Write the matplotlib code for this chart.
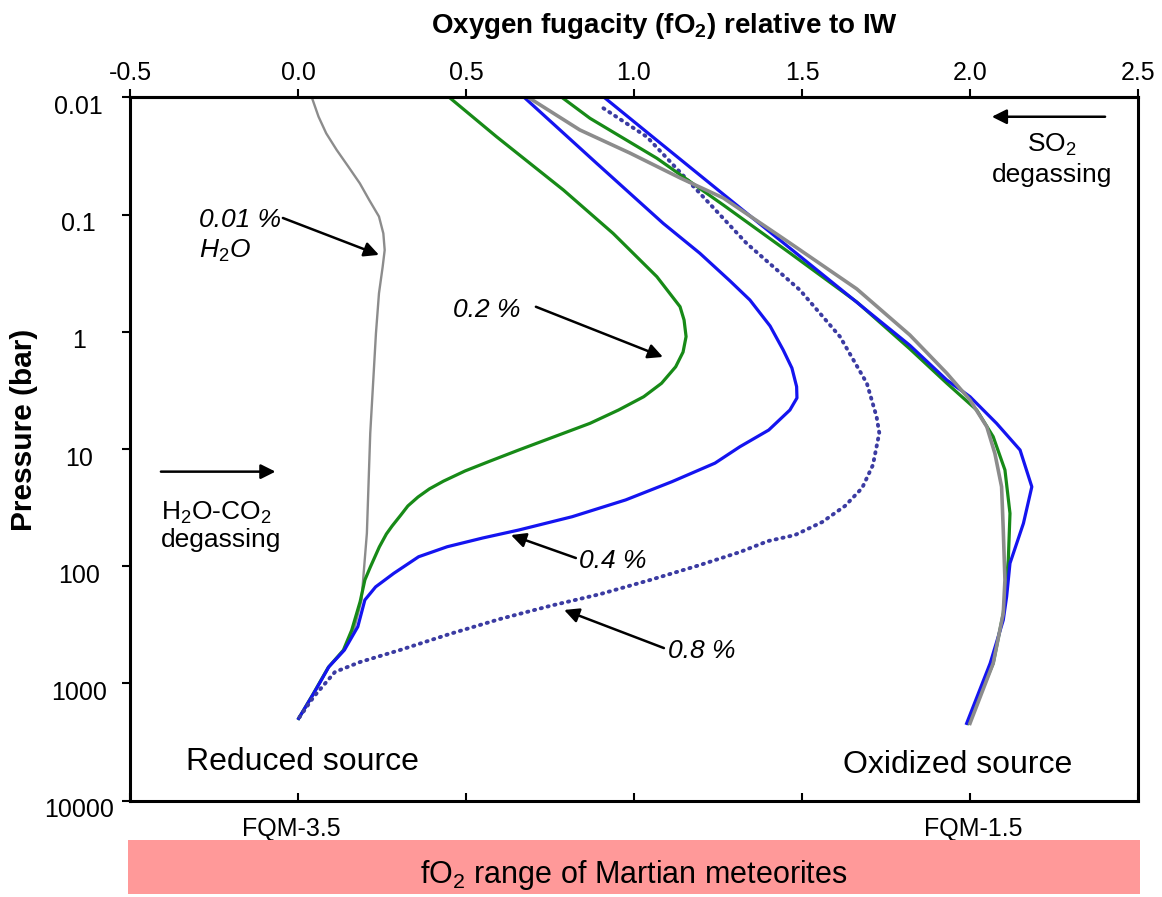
import matplotlib
matplotlib.use("Agg")
import matplotlib.pyplot as plt
import matplotlib.transforms as mtransforms
from matplotlib.patches import Rectangle
from matplotlib.ticker import NullLocator

plt.rcParams["font.family"] = ["Liberation Sans", "DejaVu Sans"]
plt.rcParams["mathtext.fontset"] = "custom"
plt.rcParams["mathtext.rm"] = "Liberation Sans"
plt.rcParams["mathtext.it"] = "Liberation Sans:italic"
plt.rcParams["mathtext.bf"] = "Liberation Sans:bold"
plt.rcParams["axes.unicode_minus"] = False

# ---- data (fO2 relative to IW, pressure in bar) ----
# reduced source
red_gray_fo2 = [0.041, 0.061, 0.084, 0.115, 0.150, 0.184, 0.212, 0.241, 0.254, 0.258,
                0.252, 0.241, 0.232, 0.215, 0.205, 0.189, 0.166, 0.138, 0.092, 0.047,
                0.002]
red_gray_p = [0.01, 0.0146, 0.0203, 0.0281, 0.0391, 0.0542, 0.0752, 0.104, 0.145, 0.201,
              0.279, 0.47, 1.03, 7.35, 52.3, 194, 350, 519, 720, 1213,
              1985]

red_green_fo2 = [0.450, 0.591, 0.790, 0.938, 1.068, 1.137, 1.149, 1.155, 1.146, 1.124,
                 1.082, 1.029, 0.954, 0.869, 0.763, 0.657, 0.571, 0.497, 0.433, 0.391,
                 0.357, 0.327, 0.306, 0.280, 0.263, 0.242, 0.215, 0.199, 0.185, 0.160,
                 0.135, 0.090, 0.045, 0.002]
red_green_p = [0.01, 0.0217, 0.0618, 0.145, 0.339, 0.611, 0.794, 1.10, 1.49, 1.99,
               2.75, 3.58, 4.65, 6.04, 7.85, 10.2, 12.7, 15.4, 18.8, 21.9,
               25.7, 30.6, 36.6, 45.4, 53.1, 68.5, 102, 131, 200, 350,
               520, 730, 1230, 1990]

red_blue_fo2 = [0.673, 0.889, 1.087, 1.196, 1.286, 1.345, 1.405, 1.444, 1.470, 1.484,
                1.485, 1.464, 1.401, 1.315, 1.241, 1.113, 0.975, 0.816, 0.657, 0.550,
                0.444, 0.359, 0.285, 0.231, 0.199, 0.178, 0.138, 0.092, 0.047, 0.002]
red_blue_p = [0.01, 0.0366, 0.119, 0.214, 0.369, 0.536, 0.893, 1.43, 2.04, 2.94,
              3.67, 4.65, 6.89, 9.57, 13.2, 19.0, 27.2, 37.8, 49.1, 57.4,
              68.2, 83.0, 115, 150, 194, 328, 519, 720, 1213, 1985]

red_dot_fo2 = [0.909, 1.038, 1.187, 1.335, 1.494, 1.613, 1.693, 1.722, 1.730, 1.711,
               1.679, 1.628, 1.560, 1.479, 1.399, 1.315, 1.196, 1.048, 0.899, 0.750,
               0.601, 0.452, 0.304, 0.185, 0.110, 0.047, 0.002]
red_dot_p = [0.0124, 0.0217, 0.0618, 0.176, 0.441, 1.10, 2.75, 5.31, 7.31, 13.7,
             21.5, 30.6, 42.0, 54.2, 61.0, 75.7, 97.7, 131, 173, 218,
             282, 378, 518, 656, 798, 1297, 1985]

# oxidized source
ox_gray_fo2 = [0.685, 0.839, 0.988, 1.137, 1.266, 1.464, 1.663, 1.821, 1.931, 2.000,
               2.050, 2.074, 2.094, 2.099, 2.104, 2.099, 2.069, 2.000]
ox_gray_p = [0.01, 0.019, 0.0299, 0.0487, 0.0723, 0.175, 0.431, 1.066, 2.26, 3.82,
             6.46, 10.9, 21.0, 49.1, 131, 252, 673, 2190]

ox_green_fo2 = [0.785, 0.869, 1.068, 1.266, 1.464, 1.663, 1.821, 1.931, 2.020, 2.069,
                2.104, 2.119, 2.114, 2.099, 2.069, 1.994]
ox_green_p = [0.01, 0.0151, 0.0331, 0.0830, 0.213, 0.557, 1.40, 2.75, 4.65, 7.85,
              15.1, 35.4, 88.5, 252, 673, 2190]

ox_blue_fo2 = [0.911, 1.048, 1.196, 1.345, 1.494, 1.643, 1.821, 1.931, 2.000, 2.079,
               2.149, 2.184, 2.159, 2.119, 2.109, 2.099, 2.060, 1.990]
ox_blue_p = [0.01, 0.0209, 0.0462, 0.1026, 0.227, 0.503, 1.306, 2.58, 3.58, 6.04,
             10.2, 21.0, 43.1, 94.4, 182, 288, 673, 2190]

x_ticks = [-0.5, 0.0, 0.5, 1.0, 1.5, 2.0, 2.5]
x_tick_labels = ["-0.5", "0.0", "0.5", "1.0", "1.5", "2.0", "2.5"]
y_ticks = [0.01, 0.1, 1, 10, 100, 1000, 10000]
y_tick_labels = ["0.01", "0.1", "1", "10", "100", "1000", "10000"]

GREEN = "#178a17"
BLUE = "#1414f0"
GRAY = "#8c8c8c"
DOTBLUE = "#3b3ba2"

W, H = 1162, 897
fig = plt.figure(figsize=(W / 100, H / 100), dpi=100)
ax = fig.add_axes([130 / W, 1 - 800.7 / H, 1008 / W, 703.4 / H])

ax.set_yscale("log")
ax.set_xlim(-0.5, 2.5)
ax.set_ylim(10000, 0.01)

# curves
ax.plot(red_gray_fo2, red_gray_p, color=GRAY, lw=1.7)
ax.plot(red_green_fo2, red_green_p, color=GREEN, lw=2.3)
ax.plot(red_blue_fo2, red_blue_p, color=BLUE, lw=2.3)
ax.plot(red_dot_fo2, red_dot_p, color=DOTBLUE, lw=2.8, linestyle=(0, (0.3, 1.5)),
        dash_capstyle="round")
ax.plot(ox_green_fo2, ox_green_p, color=GREEN, lw=2.3)
ax.plot(ox_blue_fo2, ox_blue_p, color=BLUE, lw=2.3)
ax.plot(ox_gray_fo2, ox_gray_p, color=GRAY, lw=2.6)

# axes styling
for s in ax.spines.values():
    s.set_linewidth(2.2)
ax.set_yticks(y_ticks)
ax.set_yticklabels(y_tick_labels)
ax.yaxis.set_minor_locator(NullLocator())
ax.tick_params(axis="y", direction="out", length=6, width=1.5, labelsize=18, pad=31)
offset = mtransforms.ScaledTranslation(0, -0.07, fig.dpi_scale_trans)
for t in ax.yaxis.get_major_ticks():
    t.label1.set_horizontalalignment("center")
    t.label1.set_transform(t.label1.get_transform() + offset)

ax.set_xticks(x_ticks)
ax.tick_params(axis="x", direction="in", length=6, width=1.5, bottom=True, top=False,
               labelbottom=False)

secax = ax.secondary_xaxis("top")
secax.set_xticks(x_ticks)
secax.set_xticklabels(x_tick_labels)
secax.tick_params(direction="out", length=6, width=1.5, labelsize=18, pad=3)
secax.spines["top"].set_linewidth(2.2)

# titles
fig.text(665 / W, 1 - 33 / H, "Oxygen fugacity (fO$_\\mathbf{2}$) relative to IW",
         ha="center", va="baseline", fontsize=20, fontweight="bold")
fig.text(24 / W, 1 - 430 / H, "Pressure (bar)", rotation=90, ha="center", va="center",
         fontsize=21.5, fontweight="bold")

# annotations
arrow = dict(arrowstyle="-|>", color="black", lw=1.8, mutation_scale=22,
             shrinkA=0, shrinkB=0)
ax.annotate("", xy=(0.241, 0.221), xytext=(-0.045, 0.107), arrowprops=arrow)
ax.text(-0.295, 0.129, "0.01 %", style="italic", fontsize=19, ha="left", va="baseline")
ax.text(-0.295, 0.235, "$\\mathit{H_2O}$", fontsize=19, ha="left", va="baseline")

ax.annotate("", xy=(1.086, 1.64), xytext=(0.708, 0.612), arrowprops=arrow)
ax.text(0.461, 0.745, "0.2 %", style="italic", fontsize=19, ha="left", va="baseline")

ax.annotate("", xy=(0.634, 54.2), xytext=(0.827, 85.1), arrowprops=arrow)
ax.text(0.836, 104, "0.4 %", style="italic", fontsize=19, ha="left", va="baseline")

ax.annotate("", xy=(0.792, 236), xytext=(1.089, 499), arrowprops=arrow)
ax.text(1.101, 611, "0.8 %", style="italic", fontsize=19, ha="left", va="baseline")

ax.annotate("", xy=(-0.067, 15.6), xytext=(-0.408, 15.6), arrowprops=arrow)
ax.text(-0.408, 40.4, "H$_2$O-CO$_2$", fontsize=19, ha="left", va="baseline")
ax.text(-0.408, 68.2, "degassing", fontsize=19, ha="left", va="baseline")

ax.annotate("", xy=(2.065, 0.01465), xytext=(2.402, 0.01465), arrowprops=arrow)
ax.text(2.244, 0.0291, "SO$_2$", fontsize=19, ha="center", va="baseline")
ax.text(2.244, 0.0525, "degassing", fontsize=19, ha="center", va="baseline")

ax.text(0.012, 5470, "Reduced source", fontsize=23, ha="center", va="baseline")
ax.text(1.964, 5850, "Oxidized source", fontsize=23, ha="center", va="baseline")

bt = mtransforms.blended_transform_factory(ax.transData, ax.transAxes)
ax.text(-0.02, -0.0498, "FQM-3.5", fontsize=18, ha="center", va="baseline", transform=bt)
ax.text(2.01, -0.0498, "FQM-1.5", fontsize=18, ha="center", va="baseline", transform=bt)

# pink band
fig.add_artist(Rectangle((128 / W, 1 - 894 / H), (1140 - 128) / W, 54 / H,
                         transform=fig.transFigure, facecolor="#ff9999",
                         edgecolor="none"))
fig.text(634 / W, 1 - 883 / H, "fO$_2$ range of Martian meteorites", fontsize=22,
         ha="center", va="baseline")

fig.savefig("out.png", dpi=100)
